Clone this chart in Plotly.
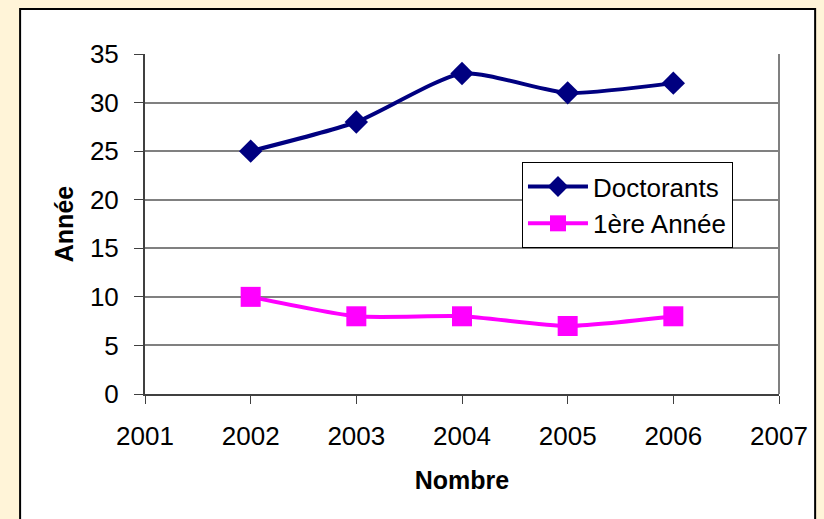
import plotly.graph_objects as go

years = [2002, 2003, 2004, 2005, 2006]
doctorants = [25, 28, 33, 31, 32]
premiere_annee = [10, 8, 8, 7, 8]
x_ticks = [2001, 2002, 2003, 2004, 2005, 2006, 2007]
y_ticks = [0, 5, 10, 15, 20, 25, 30, 35]

FONT = "Liberation Sans, Arial, sans-serif"

fig = go.Figure()
fig.add_trace(go.Scatter(
    x=years, y=doctorants, name="Doctorants", mode="lines+markers",
    line=dict(color="#000080", width=4, shape="spline", smoothing=0.6),
    marker=dict(symbol="diamond", size=18, color="#000080"),
))
fig.add_trace(go.Scatter(
    x=years, y=premiere_annee, name="1ère Année", mode="lines+markers",
    line=dict(color="#FF00FF", width=4, shape="spline", smoothing=0.6),
    marker=dict(symbol="square", size=20, color="#FF00FF"),
))

# white chart-area frame
fig.add_shape(type="rect", xref="paper", yref="paper",
              x0=-0.197, x1=1.057, y0=-0.40, y1=1.132,
              line=dict(color="black", width=2), fillcolor="white", layer="below")
# right border of plot area
fig.add_shape(type="line", xref="paper", yref="paper",
              x0=1, x1=1, y0=0, y1=1, line=dict(color="#808080", width=2))

fig.update_layout(
    width=824, height=519,
    paper_bgcolor="#FFF4D8", plot_bgcolor="white",
    margin=dict(l=145, r=45, t=54, b=125),
    font=dict(family=FONT, size=26, color="black"),
    showlegend=True,
    legend=dict(x=0.5946, y=0.682, xanchor="left", yanchor="top",
                bgcolor="white", bordercolor="black", borderwidth=1,
                font=dict(size=26), itemwidth=60),
    xaxis=dict(
        range=[2001, 2007], tickvals=x_ticks, ticktext=[str(v) for v in x_ticks],
        showgrid=False, zeroline=False, showline=True, linecolor="#404040", linewidth=2,
        ticks="outside", ticklen=8, tickcolor="#404040", tickwidth=1,
        ticklabelstandoff=10,
        title=dict(text="<b>Nombre</b>", font=dict(size=25), standoff=21),
    ),
    yaxis=dict(
        range=[0, 35], tickvals=y_ticks,
        showgrid=True, gridcolor="#808080", gridwidth=2,
        zeroline=False, showline=True, linecolor="#404040", linewidth=2,
        ticks="outside", ticklen=9, tickcolor="#404040", tickwidth=1,
        ticklabelstandoff=10,
        title=dict(text="<b>Année</b>", font=dict(size=25), standoff=9),
    ),
)

fig.write_html(
    "out.html",
    config={"displayModeBar": False},
    post_script="document.body.style.margin='0';document.body.style.background='#FFF4D8';",
)
